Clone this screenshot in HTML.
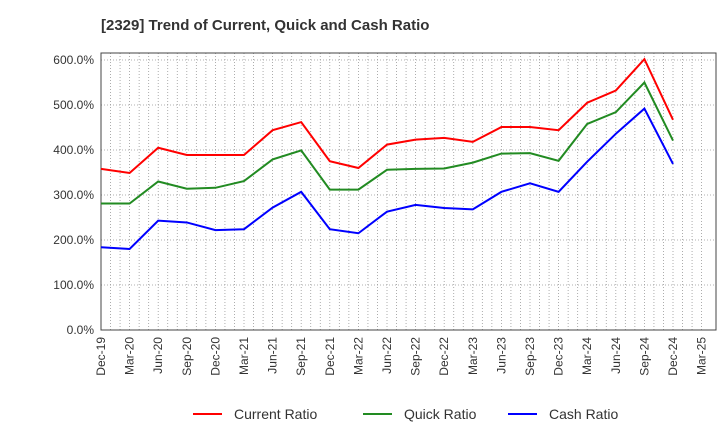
<!DOCTYPE html>
<html><head><meta charset="utf-8"><style>
body{margin:0;background:#fff;font-family:"Liberation Sans",sans-serif}
</style></head><body>
<svg id="c" width="720" height="440" xmlns="http://www.w3.org/2000/svg" style="font-family:'Liberation Sans',sans-serif">
<text x="101" y="30" font-size="15" font-weight="bold" fill="#333">[2329]  Trend of Current, Quick and Cash Ratio</text>
</svg>
<script>
const xLabels=["Dec-19","Mar-20","Jun-20","Sep-20","Dec-20","Mar-21","Jun-21","Sep-21","Dec-21","Mar-22","Jun-22","Sep-22","Dec-22","Mar-23","Jun-23","Sep-23","Dec-23","Mar-24","Jun-24","Sep-24","Dec-24","Mar-25"];
const yTicks=[0,100,200,300,400,500,600];
const currentRatio=[358,349,405,389,389,389,444,462,375,360,412,423,427,418,451,451,444,505,532,602,467];
const quickRatio=[281,281,330,314,316,331,379,399,312,312,356,358,359,372,392,393,376,458,484,550,421];
const cashRatio=[184,180,243,239,222,224,272,307,224,215,263,278,271,268,307,326,307,374,436,492,369];
const svg=document.getElementById('c');const NS='http://www.w3.org/2000/svg';
const L=101,R=716,T=53,B=330,step=28.6;
const x=i=>L+i*step;const y=v=>B-v*0.45;
function mk(t,a,p){const e=document.createElementNS(NS,t);for(const k in a)e.setAttribute(k,a[k]);(p||svg).appendChild(e);return e;}
// monthly minor grid
for(let m=1;m<=63;m++){const xx=L+m*step/3;if(xx>=R)break;const g=mk('line',{x1:xx,x2:xx,y1:T,y2:B,stroke:'#999','stroke-dasharray':'1,2','stroke-width':0.8});

}
yTicks.forEach(v=>{const g=mk('line',{x1:L,x2:R,y1:y(v),y2:y(v),stroke:'#999','stroke-dasharray':'1,2','stroke-width':0.8});


const t=mk('text',{x:L-7,y:y(v)+4,'font-size':12,'text-anchor':'end',fill:'#333'});t.textContent=v.toFixed(1)+'%';

});
xLabels.forEach((s,i)=>{const t=mk('text',{x:x(i)+4,y:B+7,'font-size':12,'text-anchor':'end',fill:'#333',transform:`rotate(-90 ${x(i)+4} ${B+7})`});t.textContent=s;

});
const fr=mk('rect',{x:L,y:T,width:R-L,height:B-T,fill:'none',stroke:'#444','stroke-width':1});


[[currentRatio,'#ff0000','current-ratio-line'],[quickRatio,'#228b22','quick-ratio-line'],[cashRatio,'#0000ff','cash-ratio-line']].forEach(([d,c,n])=>{
const p=mk('polyline',{points:d.map((v,i)=>x(i)+','+y(v)).join(' '),fill:'none',stroke:c,'stroke-width':2});

});
[['Current Ratio','#ff0000',193],['Quick Ratio','#228b22',363],['Cash Ratio','#0000ff',508]].forEach(([s,c,lx])=>{
const g=mk('g',{});


mk('line',{x1:lx,x2:lx+29,y1:414,y2:414,stroke:c,'stroke-width':2},g);
const t=mk('text',{x:lx+41,y:419,'font-size':14,fill:'#333'},g);t.textContent=s;});
</script>
</body></html>
